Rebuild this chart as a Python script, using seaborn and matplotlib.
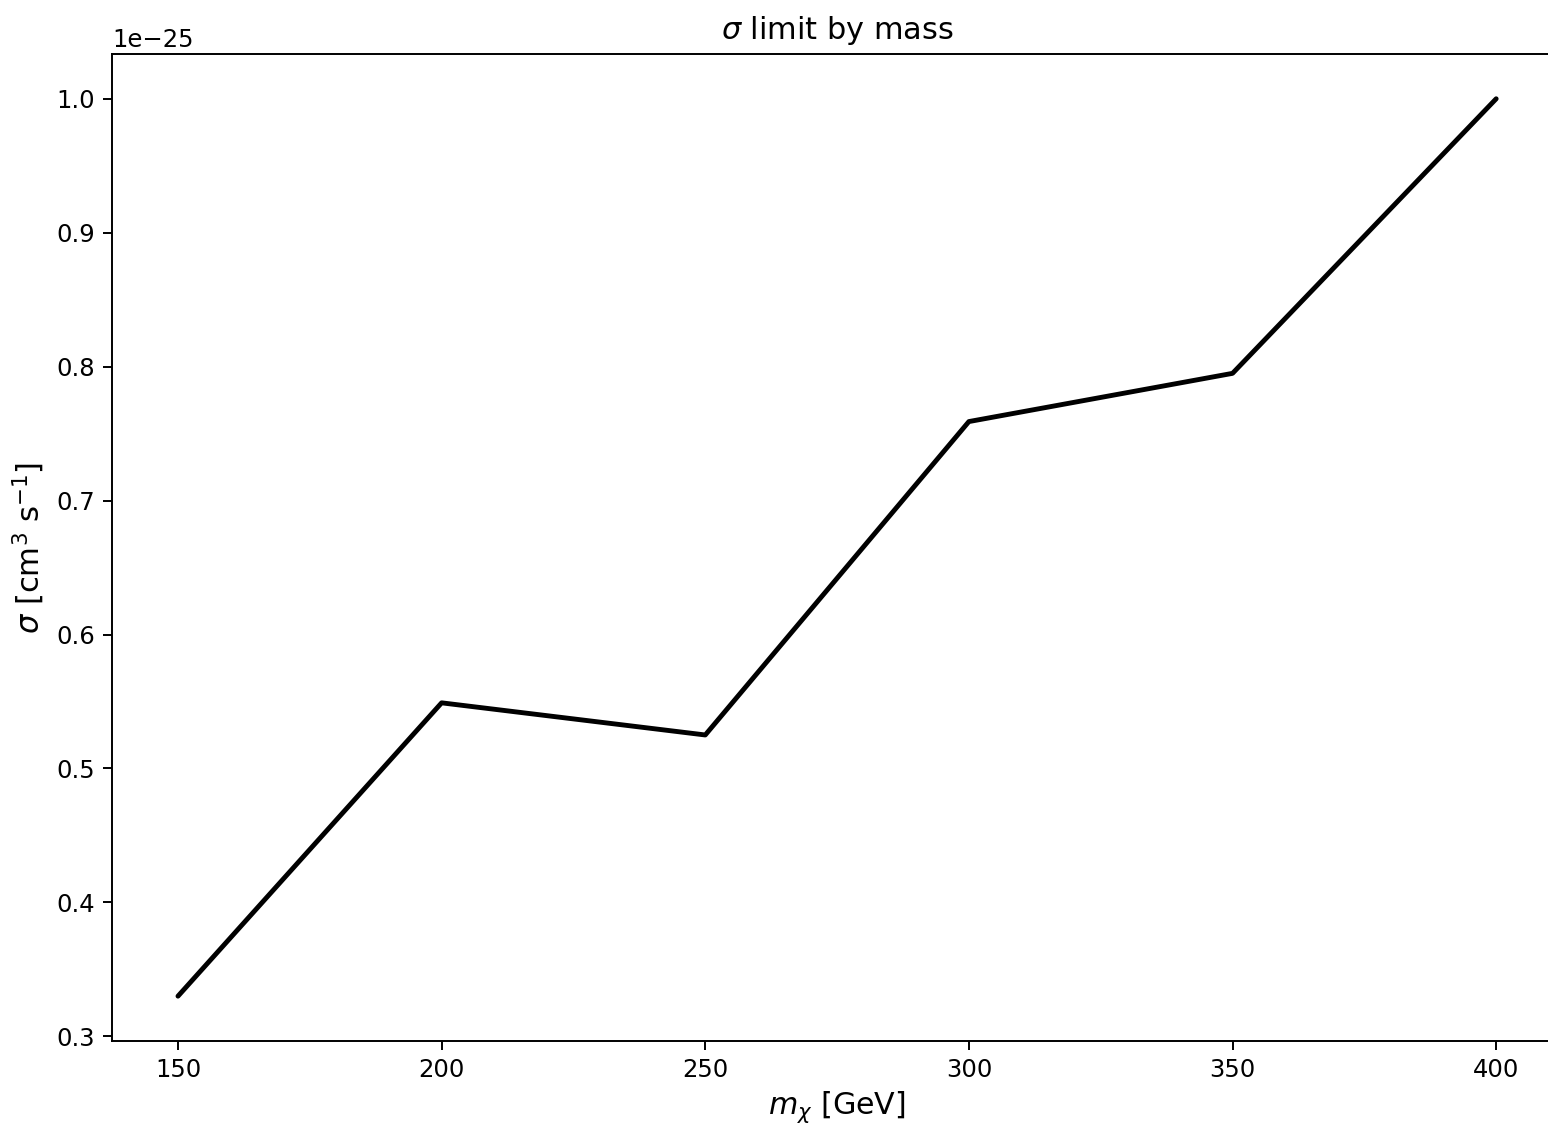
import pandas as pd
import matplotlib
matplotlib.use("Agg")
import matplotlib.pyplot as plt
import seaborn as sns

# dark matter mass points [GeV] and the sigma limit
mass = [150, 200, 250, 300, 350, 400]
sigma_limit = [0.330e-25, 0.549e-25, 0.525e-25, 0.759e-25, 0.795e-25, 1.000e-25]

df = pd.DataFrame({"mass": mass, "sigma": sigma_limit})

sns.set_style("ticks")
plt.rcParams["font.family"] = ["DejaVu Sans"]
plt.rcParams["text.color"] = "black"
plt.rcParams["axes.labelcolor"] = "black"

dpi = 175
fig = plt.figure(figsize=(1548 / dpi, 1123 / dpi), dpi=dpi)
# the right spine is cut off in the original, so the axes run past the edge
ax = fig.add_axes([0.0724, 0.073, 0.9367, 0.879])

sns.lineplot(data=df, x="mass", y="sigma", color="black", linewidth=2, ax=ax)

for s in ax.spines.values():
    s.set_color("black")
    s.set_linewidth(0.8)
ax.tick_params(colors="black", labelsize=10, length=3.5, width=0.8)
ax.set_xticks(mass)

ax.set_xlabel(r"$m_\chi$ [GeV]", fontsize=12.4, labelpad=3)
ax.set_ylabel(r"$\sigma$ [cm$^3$ s$^{-1}$]", fontsize=12.6)
ax.set_title(r"$\sigma$ limit by mass", fontsize=12.5, color="black")

fig.savefig("out.png", dpi=dpi)
